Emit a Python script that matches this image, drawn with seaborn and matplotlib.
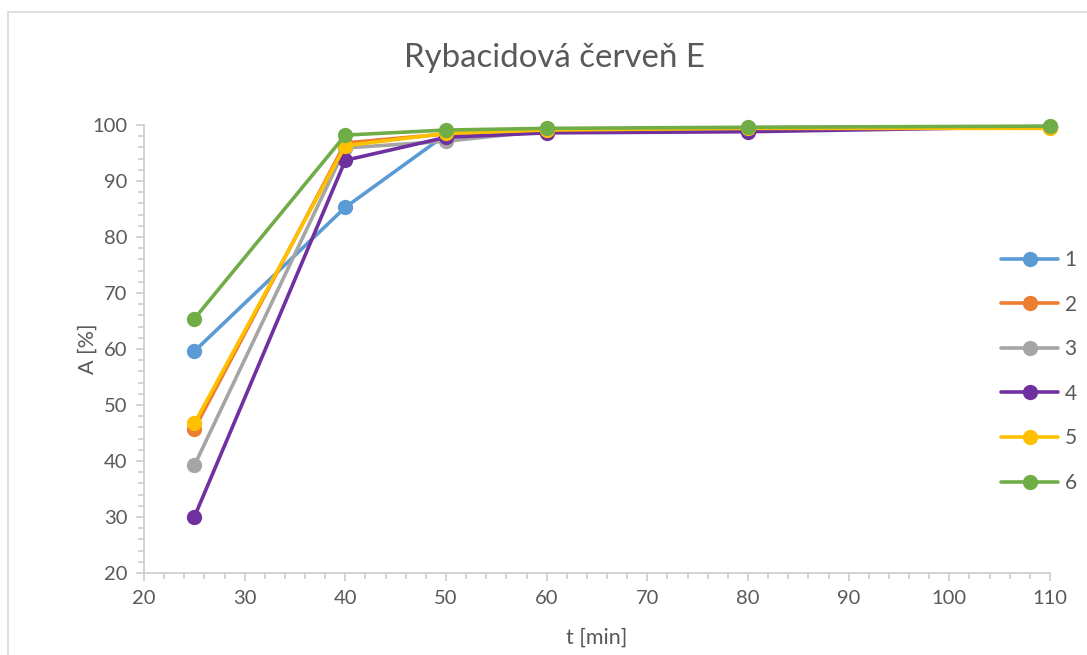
import matplotlib
matplotlib.use("Agg")
import matplotlib.pyplot as plt
import seaborn as sns
import pandas as pd
from matplotlib.lines import Line2D
from matplotlib.patches import Rectangle
from matplotlib.ticker import MultipleLocator

# Data
t_min = [25, 40, 50, 60, 80, 110]
series_names = ["1", "2", "3", "4", "5", "6"]
s1 = [59.6, 85.3, 98.3, 99.2, 99.5, 99.7]
s2 = [45.7, 96.8, 98.4, 99.2, 99.5, 99.7]
s3 = [39.2, 95.9, 97.1, 99.0, 99.4, 99.7]
s4 = [30.0, 93.7, 97.8, 98.6, 98.8, 99.7]
s5 = [46.7, 96.3, 98.5, 99.1, 99.4, 99.4]
s6 = [65.4, 98.2, 99.1, 99.4, 99.6, 99.8]
values = [s1, s2, s3, s4, s5, s6]
colors = ["#5B9BD5", "#ED7D31", "#A5A5A5", "#7030A0", "#FFC000", "#70AD47"]

df = pd.DataFrame({
    "t": t_min * len(series_names),
    "A": [v for s in values for v in s],
    "serie": [n for n in series_names for _ in t_min],
})

sns.set_theme(style="white")
plt.rcParams["font.family"] = ["Lato", "DejaVu Sans"]

W, H = 1087, 655
fig = plt.figure(figsize=(W / 100, H / 100), dpi=100)
ax = fig.add_axes([144 / W, 1 - 573 / H, (1050 - 144) / W, (573 - 125) / H])

lw = 2.6
ms = 11
for name, col in zip(series_names, colors):
    sub = df[df["serie"] == name]
    sns.lineplot(data=sub, x="t", y="A", ax=ax, color=col, linewidth=lw,
                 marker="o", markersize=ms, markeredgewidth=0, clip_on=False,
                 legend=False, errorbar=None)

ax.set_xlim(20, 110)
ax.set_ylim(20, 100)
ax.xaxis.set_major_locator(MultipleLocator(10))
ax.xaxis.set_minor_locator(MultipleLocator(2))
ax.yaxis.set_major_locator(MultipleLocator(10))
ax.yaxis.set_minor_locator(MultipleLocator(2))

grey = "#D0D0D0"
text_col = "#595959"
for side in ["top", "right"]:
    ax.spines[side].set_visible(False)
for side in ["left", "bottom"]:
    ax.spines[side].set_color(grey)
    ax.spines[side].set_linewidth(1.3)

ax.tick_params(axis="both", which="major", direction="out", length=6, width=1.3,
               color=grey, labelsize=14.5, labelcolor=text_col, pad=6,
               bottom=True, left=True)
ax.tick_params(axis="both", which="minor", direction="out", length=4, width=1.3,
               color=grey, bottom=True, left=True)

ax.set_xlabel("t [min]", fontsize=15.5, color=text_col)
ax.set_ylabel("A [%]", fontsize=15.5, color=text_col)
ax.xaxis.set_label_coords((597 - 144) / (1050 - 144), -(638 - 573) / (573 - 125))
ax.yaxis.set_label_coords(-(144 - 88) / (1050 - 144), 0.5)
ax.xaxis.label.set_va("center")
ax.yaxis.label.set_va("center")

fig.text(554 / W, 1 - 58 / H, "Rybacidová červeň E", fontsize=23.8, color=text_col,
         ha="center", va="center")

handles = [Line2D([0], [0], color=c, linewidth=lw, marker="o", markersize=ms,
                  markeredgewidth=0) for c in colors]
leg = fig.legend(handles, series_names, loc="upper left",
                 bbox_to_anchor=(1001 / W, 1 - 250 / H),
                 frameon=False, fontsize=15, labelspacing=1.18, handlelength=2.75,
                 handletextpad=0.3, borderpad=0, borderaxespad=0)
for txt in leg.get_texts():
    txt.set_color(text_col)

# chart area border
fig.patches.append(Rectangle((8 / W, -0.1), 1.2, (H - 12) / H + 0.1,
                             transform=fig.transFigure, fill=False,
                             edgecolor="#D9D9D9", linewidth=1.2))

fig.savefig("out.png", dpi=100)
